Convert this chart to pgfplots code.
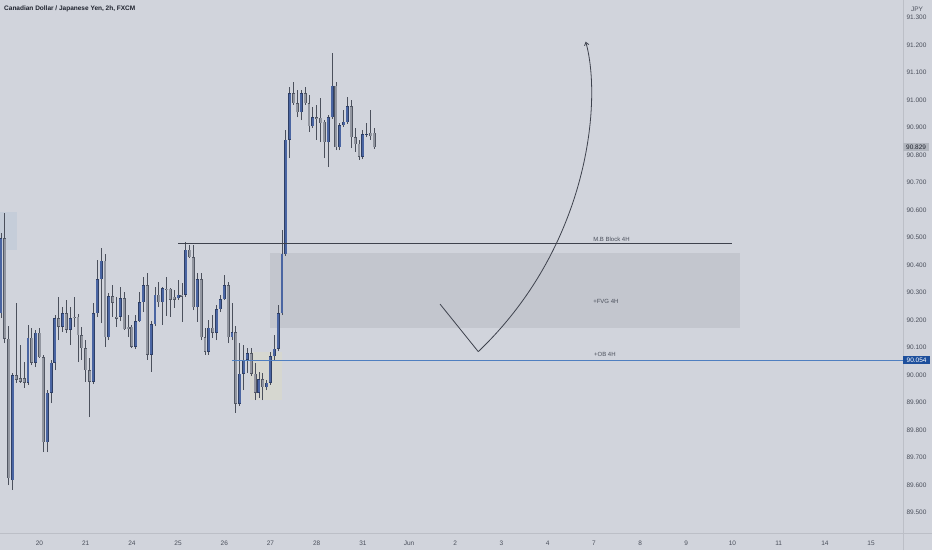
\documentclass[border=0pt]{standalone}
\usepackage{pgfplots}
\pgfplotsset{compat=1.18}
\usepackage{pgfplotstable}
\usepackage{fontspec}
\setmainfont{Liberation Sans}
\usetikzlibrary{arrows.meta}

\definecolor{bg}{HTML}{D1D4DC}
\definecolor{sep}{HTML}{BCBFC7}
\definecolor{txt}{HTML}{4A4F5B}
\definecolor{ttl}{HTML}{1E222D}
\definecolor{wick}{HTML}{4B505C}
\definecolor{bullfill}{HTML}{4A65A2}
\definecolor{bulledge}{HTML}{2E3F66}
\definecolor{bearfill}{HTML}{9296A0}
\definecolor{bearedge}{HTML}{525763}
\definecolor{fvg}{HTML}{C3C6CE}
\definecolor{obline}{HTML}{4F7FC0}
\definecolor{obbox}{HTML}{1D4F9C}
\definecolor{lastbox}{HTML}{B3B7BF}
\definecolor{leftbox}{HTML}{C5CDD9}
\definecolor{obzone}{HTML}{DADAC8}
\definecolor{pen}{HTML}{3E424D}

% CADJPY 2h bars, k = bar index (12 bars a day)
\pgfplotstableread{
k o h l c
0 90.225 90.516 90.207 90.498
3 89.618 90.007 89.582 90.000
7 89.971 90.182 89.964 90.135
9 90.044 90.164 90.029 90.153
12 89.756 89.945 89.720 89.935
13 89.935 90.055 89.898 90.044
14 90.044 90.218 90.018 90.207
16 90.175 90.247 90.156 90.225
18 90.164 90.247 90.109 90.207
24 89.975 90.262 89.967 90.225
25 90.225 90.418 90.211 90.349
26 90.349 90.462 90.189 90.415
28 90.138 90.298 90.127 90.287
31 90.211 90.320 90.196 90.280
35 90.102 90.218 90.095 90.196
36 90.196 90.302 90.193 90.265
37 90.265 90.356 90.229 90.327
39 90.073 90.196 90.011 90.185
40 90.185 90.320 90.178 90.291
42 90.265 90.320 90.182 90.316
46 90.280 90.345 90.273 90.291
48 90.291 90.484 90.284 90.455
51 90.247 90.371 90.193 90.349
54 90.084 90.200 90.073 90.171
56 90.153 90.255 90.127 90.240
57 90.240 90.291 90.229 90.276
58 90.276 90.364 90.273 90.327
60 90.138 90.262 90.127 90.156
62 89.895 90.116 89.887 90.004
63 90.004 90.109 89.945 90.055
64 90.055 90.098 90.007 90.080
67 89.935 90.011 89.916 89.985
69 89.956 89.982 89.945 89.971
70 89.971 90.084 89.964 90.069
71 90.069 90.145 90.055 90.095
72 90.095 90.255 90.087 90.225
73 90.225 90.527 90.218 90.440
74 90.440 90.891 90.433 90.855
75 90.855 91.047 90.789 91.025
78 90.956 91.036 90.927 91.025
81 90.905 90.975 90.898 90.938
85 90.847 90.945 90.756 90.938
86 90.938 91.171 90.931 91.051
88 90.829 90.916 90.818 90.909
89 90.909 90.964 90.902 90.920
90 90.920 91.011 90.913 90.978
94 90.793 90.891 90.785 90.876
95 90.873 90.916 90.865 90.876
}\bull

\pgfplotstableread{
k o h l c
1 90.498 90.589 90.116 90.131
2 90.131 90.178 89.600 89.625
4 90.000 90.262 89.971 89.982
5 89.989 90.109 89.971 89.975
6 89.989 90.047 89.953 89.971
8 90.135 90.171 90.036 90.044
10 90.153 90.171 90.062 90.065
11 90.065 90.073 89.720 89.756
15 90.207 90.284 90.127 90.175
17 90.225 90.273 90.153 90.164
19 90.211 90.284 90.175 90.207
20 90.211 90.222 90.047 90.145
21 90.145 90.175 90.055 90.098
22 90.098 90.127 89.975 90.018
23 90.018 90.062 89.847 89.975
27 90.415 90.440 90.102 90.138
29 90.287 90.327 90.211 90.262
30 90.211 90.284 90.175 90.204
32 90.280 90.302 90.164 90.167
33 90.175 90.218 90.138 90.167
34 90.175 90.182 90.098 90.102
38 90.327 90.371 90.055 90.073
41 90.291 90.338 90.247 90.265
43 90.313 90.356 90.215 90.309
44 90.313 90.316 90.211 90.273
45 90.284 90.309 90.244 90.273
47 90.291 90.335 90.193 90.284
49 90.455 90.473 90.425 90.429
50 90.429 90.473 90.236 90.247
52 90.349 90.371 90.127 90.138
53 90.138 90.171 90.073 90.084
55 90.171 90.218 90.135 90.153
59 90.327 90.338 90.116 90.138
61 90.156 90.178 89.862 89.895
65 90.080 90.098 89.996 90.004
66 90.004 90.044 89.909 89.935
68 89.985 90.007 89.909 89.956
76 91.025 91.065 90.982 90.989
77 90.989 91.036 90.938 90.956
79 91.025 91.047 90.982 90.989
80 90.989 91.018 90.884 90.905
82 90.938 90.982 90.855 90.931
83 90.935 91.007 90.847 90.916
84 90.920 90.927 90.789 90.847
87 91.051 91.065 90.818 90.829
91 90.978 91.000 90.825 90.865
92 90.865 90.898 90.811 90.840
93 90.840 90.855 90.782 90.793
96 90.880 90.964 90.855 90.869
97 90.880 90.898 90.822 90.829
}\bear

\begin{document}
\begin{tikzpicture}
\useasboundingbox (0,0) rectangle (932pt,550pt);
\fill[bg] (0,0) rectangle (932pt,550pt);
\draw[sep, line width=0.8pt] (903.5pt,0) -- (903.5pt,550pt);
\draw[sep, line width=0.8pt] (0,17pt) -- (932pt,17pt);
\begin{axis}[
  at={(0pt,17pt)}, anchor=south west,
  scale only axis, width=903pt, height=533pt,
  xmin=-0.26, xmax=234.29, ymin=89.4255, ymax=91.3636,
  axis line style={draw=none},
  tick style={draw=none},
  clip mode=individual,
  yticklabel pos=right,
  ytick={89.5,89.6,89.7,89.8,89.9,90.0,90.1,90.2,90.3,90.4,90.5,90.6,90.7,90.8,90.9,91.0,91.1,91.2,91.3},
  /pgf/number format/fixed,
  /pgf/number format/fixed zerofill,
  /pgf/number format/precision=3,
  /pgf/number format/assume math mode=true,
  xtick={10,22,34,46,58,70,82,94,106,118,130,142,154,166,178,190,202,214,226},
  xticklabels={20,21,24,25,26,27,28,31,Jun,2,3,4,7,8,9,10,11,14,15},
  ticklabel style={font=\fontsize{6.5}{7}\selectfont, text=txt},
  xticklabel style={yshift=-4.5pt},
]

% drawn zones
\addplot[draw=none, fill=leftbox, forget plot] coordinates {(-0.26,90.4545) (4.16,90.4545) (4.16,90.593) (-0.26,90.593)} -- cycle;
\addplot[draw=none, fill=fvg, forget plot] coordinates {(69.87,90.172) (191.95,90.172) (191.95,90.4425) (69.87,90.4425)} -- cycle;
\addplot[draw=none, fill=obzone, fill opacity=0.6, forget plot] coordinates {(64.7,89.909) (73,89.909) (73,90.084) (64.7,90.084)} -- cycle;

% wicks
\addplot[draw=none, mark=none, forget plot, error bars/.cd, y dir=plus, y explicit, error mark=none,
  error bar style={draw=wick, line width=0.8pt}]
  table[x=k, y=l, y error plus expr=\thisrow{h}-\thisrow{l}] {\bull};
\addplot[draw=none, mark=none, forget plot, error bars/.cd, y dir=plus, y explicit, error mark=none,
  error bar style={draw=wick, line width=0.8pt}]
  table[x=k, y=l, y error plus expr=\thisrow{h}-\thisrow{l}] {\bear};

% bodies: edge then fill
\addplot[draw=none, mark=none, forget plot, error bars/.cd, y dir=plus, y explicit, error mark=none,
  error bar style={draw=bulledge, line width=2.9pt}]
  table[x=k, y=o, y error plus expr={max(\thisrow{c}-\thisrow{o},0.004)}] {\bull};
\addplot[draw=none, mark=none, forget plot, error bars/.cd, y dir=plus, y explicit, error mark=none,
  error bar style={draw=bullfill, line width=2.0pt}]
  table[x=k, y expr=\thisrow{o}+0.0018, y error plus expr={max(\thisrow{c}-\thisrow{o}-0.0036,0)}] {\bull};
\addplot[draw=none, mark=none, forget plot, error bars/.cd, y dir=plus, y explicit, error mark=none,
  error bar style={draw=bearedge, line width=2.9pt}]
  table[x=k, y=c, y error plus expr={max(\thisrow{o}-\thisrow{c},0.004)}] {\bear};
\addplot[draw=none, mark=none, forget plot, error bars/.cd, y dir=plus, y explicit, error mark=none,
  error bar style={draw=bearfill, line width=2.0pt}]
  table[x=k, y expr=\thisrow{c}+0.0018, y error plus expr={max(\thisrow{o}-\thisrow{c}-0.0036,0)}] {\bear};

% levels
\addplot[pen, line width=0.9pt, forget plot] coordinates {(46,90.479) (189.8,90.479)};
\addplot[obline, line width=1pt, forget plot] coordinates {(60,90.054) (234.29,90.054)};

% projected path
\draw[pen, line width=0.8pt] (axis cs:114.03,90.258) -- (axis cs:123.97,90.085);
\draw[pen, line width=0.8pt, -{Straight Barb[length=3pt,width=4.5pt]}]
  (axis cs:123.97,90.085) .. controls (axis cs:152.99,90.473) and (axis cs:156.1,91.0) .. (axis cs:151.87,91.212);

\node[anchor=west, inner sep=0pt, font=\fontsize{6}{7}\selectfont, text=txt] at (axis cs:153.8,90.4945) {M.B Block 4H};
\node[anchor=west, inner sep=0pt, font=\fontsize{6}{7}\selectfont, text=txt] at (axis cs:153.8,90.269) {+FVG 4H};
\node[anchor=west, inner sep=0pt, font=\fontsize{6}{7}\selectfont, text=txt] at (axis cs:154,90.076) {+OB 4H};

% price scale badges
\node[anchor=west, fill=lastbox, text=ttl, inner xsep=3pt, inner ysep=1.8pt, font=\fontsize{6.5}{7}\selectfont] at (axis cs:234.29,90.829) {90.829};
\node[anchor=west, fill=obbox, text=white, inner xsep=3.5pt, inner ysep=1.8pt, font=\fontsize{6.5}{7}\selectfont] at (axis cs:234.29,90.054) {90.054};
\node[text=txt, inner sep=0pt, font=\fontsize{6.5}{7}\selectfont, xshift=14pt, yshift=-9.5pt] at (rel axis cs:1,1) {JPY};

\node[anchor=west, inner sep=0pt, text=ttl, font=\bfseries\fontsize{6.5}{8}\selectfont, xshift=4pt, yshift=-9.3pt] at (rel axis cs:0,1) {Canadian Dollar / Japanese Yen, 2h, FXCM};
\end{axis}
\end{tikzpicture}
\end{document}
